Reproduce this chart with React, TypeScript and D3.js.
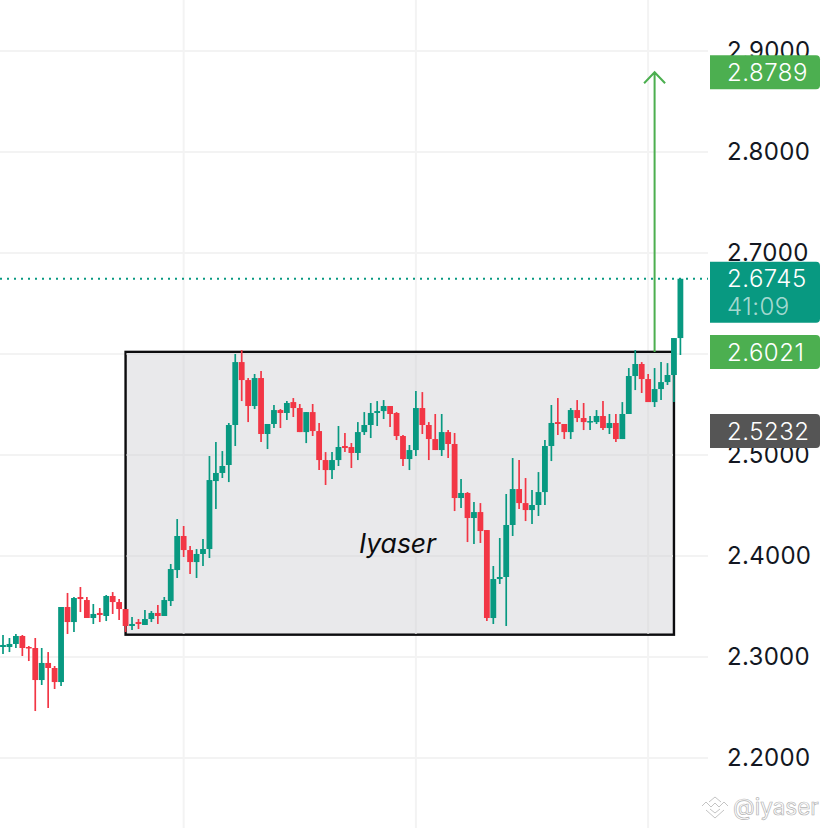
import { useEffect, useRef } from 'react';
import * as d3 from 'd3';

const opens = [
  2.3099, 2.3099, 2.3129, 2.3208, 2.3099, 2.3089, 2.2772, 2.2941, 2.2891, 2.2752,
  2.3495, 2.3346, 2.3594, 2.3564, 2.3386, 2.3436, 2.3406, 2.3604, 2.3544, 2.3475,
  2.3307, 2.3346, 2.3317, 2.3376, 2.3436, 2.3406, 2.3554, 2.3861, 2.4198, 2.4059,
  2.394, 2.402, 2.4069, 2.4742, 2.4822, 2.4901, 2.5297, 2.592, 2.5742, 2.5485,
  2.5762, 2.5208, 2.5307, 2.5445, 2.5416, 2.5524, 2.5465, 2.5227, 2.5425, 2.5237,
  2.495, 2.4851, 2.495, 2.5089, 2.5079, 2.502, 2.5227, 2.5297, 2.5416, 2.5435,
  2.5485, 2.5416, 2.5188, 2.496, 2.5049, 2.5465, 2.5297, 2.5158, 2.5049, 2.5227,
  2.5109, 2.4574, 2.4624, 2.4376, 2.4435, 2.4257, 2.3386, 2.3772, 2.3792, 2.4307,
  2.4663, 2.4524, 2.4455, 2.4505, 2.4633, 2.5089, 2.5326, 2.5307, 2.5227, 2.5445,
  2.5366, 2.5326, 2.5326, 2.5386, 2.5267, 2.5317, 2.5158, 2.5406, 2.5782, 2.5901,
  2.5752, 2.5524, 2.5653, 2.5722, 2.5792, 2.6158,
];
const highs = [
  2.3218, 2.3188, 2.3228, 2.3218, 2.3109, 2.3188, 2.3089, 2.3049, 2.2911, 2.3495,
  2.3634, 2.3594, 2.3693, 2.3594, 2.3525, 2.3485, 2.3614, 2.3643, 2.3574, 2.3475,
  2.3396, 2.3376, 2.3465, 2.3455, 2.3515, 2.3594, 2.3921, 2.4366, 2.4297, 2.4099,
  2.4069, 2.4168, 2.499, 2.5128, 2.5039, 2.5317, 2.6, 2.6039, 2.5762, 2.5802,
  2.5831, 2.5307, 2.5495, 2.5455, 2.5534, 2.5564, 2.5505, 2.5425, 2.5505, 2.5317,
  2.5029, 2.5029, 2.5287, 2.5218, 2.5119, 2.5326, 2.5425, 2.5515, 2.5534, 2.5544,
  2.5485, 2.5425, 2.5198, 2.5099, 2.5633, 2.5623, 2.5326, 2.5406, 2.5406, 2.5247,
  2.5218, 2.4762, 2.4633, 2.4534, 2.4524, 2.4257, 2.3901, 2.4178, 2.4614, 2.497,
  2.495, 2.4772, 2.4653, 2.4831, 2.5148, 2.5495, 2.5564, 2.5307, 2.5465, 2.5544,
  2.5515, 2.5386, 2.5445, 2.5534, 2.5406, 2.5406, 2.5524, 2.5861, 2.6039, 2.592,
  2.5802, 2.5861, 2.592, 2.591, 2.6158, 2.6745,
];
const lows = [
  2.303, 2.3049, 2.3089, 2.301, 2.296, 2.2465, 2.2723, 2.2495, 2.2683, 2.2713,
  2.3228, 2.3247, 2.3445, 2.3386, 2.3327, 2.3346, 2.3356, 2.3426, 2.3366, 2.3247,
  2.3267, 2.3277, 2.3317, 2.3346, 2.3327, 2.3406, 2.3505, 2.3782, 2.399, 2.3822,
  2.3782, 2.3901, 2.398, 2.4465, 2.4772, 2.4732, 2.5089, 2.5534, 2.5326, 2.5455,
  2.5128, 2.5059, 2.5267, 2.5267, 2.5346, 2.5376, 2.5227, 2.5118, 2.5188, 2.4851,
  2.4703, 2.4762, 2.4891, 2.5029, 2.4871, 2.495, 2.5198, 2.5168, 2.5287, 2.5356,
  2.5277, 2.5148, 2.4891, 2.4851, 2.499, 2.5208, 2.495, 2.5049, 2.499, 2.497,
  2.4445, 2.4475, 2.4138, 2.4119, 2.4129, 2.3356, 2.3327, 2.3723, 2.3307, 2.4198,
  2.4465, 2.4346, 2.4317, 2.4396, 2.4505, 2.494, 2.5198, 2.5158, 2.5158, 2.5326,
  2.5247, 2.5247, 2.5307, 2.5247, 2.5208, 2.5128, 2.5158, 2.5406, 2.5643, 2.5614,
  2.5524, 2.5475, 2.5544, 2.5693, 2.5524, 2.599,
];
const closes = [
  2.3119, 2.3129, 2.3208, 2.3089, 2.3089, 2.2772, 2.2941, 2.2891, 2.2752, 2.3495,
  2.3346, 2.3584, 2.3574, 2.3386, 2.3426, 2.3416, 2.3604, 2.3544, 2.3475, 2.3307,
  2.3327, 2.3327, 2.3376, 2.3436, 2.3406, 2.3564, 2.3871, 2.4198, 2.4059, 2.394,
  2.402, 2.4069, 2.4752, 2.4822, 2.4891, 2.5297, 2.592, 2.5742, 2.5485, 2.5762,
  2.5208, 2.5307, 2.5445, 2.5416, 2.5515, 2.5465, 2.5227, 2.5425, 2.5237, 2.495,
  2.4851, 2.495, 2.5079, 2.5069, 2.502, 2.5227, 2.5297, 2.5416, 2.5435, 2.5485,
  2.5406, 2.5188, 2.496, 2.5049, 2.5465, 2.5297, 2.5158, 2.5049, 2.5227, 2.5109,
  2.4574, 2.4624, 2.4376, 2.4435, 2.4247, 2.3386, 2.3772, 2.3792, 2.4307, 2.4663,
  2.4524, 2.4455, 2.4505, 2.4633, 2.5089, 2.5317, 2.5307, 2.5227, 2.5445, 2.5366,
  2.5326, 2.5336, 2.5386, 2.5267, 2.5317, 2.5158, 2.5406, 2.5782, 2.5901, 2.5752,
  2.5524, 2.5653, 2.5722, 2.5792, 2.6158, 2.6745,
];

const priceTicks = [2.2, 2.3, 2.4, 2.5, 2.6, 2.7, 2.8, 2.9];
const timeGridBars = [28, 64, 100];

const boxTop = 2.6021;
const boxBottom = 2.3221;
const boxStartBar = 19;
const boxEndBar = 104;
const arrowBar = 101;
const targetPrice = 2.8789;
const lastPrice = 2.6745;
const markerPrice = 2.5232;
const countdown = '41:09';

const GREEN = '#089981';
const RED = '#f23645';
const ARROW = '#4caf50';
const FONT = 'Inter, sans-serif';

function App() {
  const svgRef = useRef<SVGSVGElement>(null);

  useEffect(() => {
    if (!svgRef.current) return;
    const svg = d3.select(svgRef.current);
    svg.selectAll('*').remove();

    const x = d3.scaleLinear().domain([0, 105]).range([3, 680.4]);
    const y = d3.scaleLinear().domain([2.2, 2.9]).range([758, 51]);
    const plotRight = 708;

    const fmt = d3.format('.4f');
    const candles = opens.map((o, i) => ({ i, o, h: highs[i], l: lows[i], c: closes[i] }));

    // grid
    svg
      .append('g')
      .selectAll('line')
      .data(priceTicks)
      .join('line')
      .attr('x1', 0)
      .attr('x2', plotRight)
      .attr('y1', (d) => y(d))
      .attr('y2', (d) => y(d))
      .attr('stroke', '#f3f3f3')
      .attr('stroke-width', 2);

    svg
      .append('g')
      .selectAll('line')
      .data(timeGridBars)
      .join('line')
      .attr('x1', (d) => x(d))
      .attr('x2', (d) => x(d))
      .attr('y1', 0)
      .attr('y2', 828)
      .attr('stroke', '#f3f3f3')
      .attr('stroke-width', 2);

    // price axis
    const axis = svg
      .append('g')
      .attr('transform', 'translate(727,0)')
      .call(d3.axisRight(y).tickValues(priceTicks).tickFormat((d) => fmt(+d)).tickSize(0).tickPadding(0));
    axis.select('.domain').remove();
    axis
      .selectAll('text')
      .attr('font-family', FONT)
      .attr('font-size', 24)
      .attr('letter-spacing', 0.3)
      .attr('fill', '#131722');

    // range box
    svg
      .append('rect')
      .attr('x', x(boxStartBar))
      .attr('y', y(boxTop))
      .attr('width', x(boxEndBar) - x(boxStartBar))
      .attr('height', y(boxBottom) - y(boxTop))
      .attr('fill', '#e9e9eb')
      .attr('stroke', '#0c0c0e')
      .attr('stroke-width', 2.4);

    // grid shows faintly through the box
    svg
      .append('g')
      .selectAll('line')
      .data(priceTicks.filter((d) => d < boxTop && d > boxBottom))
      .join('line')
      .attr('x1', x(boxStartBar) + 1)
      .attr('x2', x(boxEndBar) - 1)
      .attr('y1', (d) => y(d))
      .attr('y2', (d) => y(d))
      .attr('stroke', '#e2e2e4')
      .attr('stroke-width', 2);
    svg
      .append('g')
      .selectAll('line')
      .data(timeGridBars)
      .join('line')
      .attr('x1', (d) => x(d))
      .attr('x2', (d) => x(d))
      .attr('y1', y(boxTop) + 1)
      .attr('y2', y(boxBottom) - 1)
      .attr('stroke', '#e2e2e4')
      .attr('stroke-width', 2);

    svg
      .append('text')
      .attr('x', 359)
      .attr('y', 553)
      .attr('font-family', FONT)
      .attr('font-style', 'italic')
      .attr('font-size', 26.5)
      .attr('fill', '#0c0c0e')
      .text('Iyaser');

    // last price line
    svg
      .append('line')
      .attr('x1', 0)
      .attr('x2', plotRight)
      .attr('y1', y(lastPrice))
      .attr('y2', y(lastPrice))
      .attr('stroke', GREEN)
      .attr('stroke-width', 2)
      .attr('stroke-dasharray', '2 5');

    // candles
    const g = svg.append('g');
    g.selectAll('line')
      .data(candles)
      .join('line')
      .attr('x1', (d) => x(d.i))
      .attr('x2', (d) => x(d.i))
      .attr('y1', (d) => y(d.h))
      .attr('y2', (d) => y(d.l))
      .attr('stroke', (d) => (d.c >= d.o ? GREEN : RED))
      .attr('stroke-width', 1.7);
    g.selectAll('rect')
      .data(candles)
      .join('rect')
      .attr('x', (d) => x(d.i) - 2.9)
      .attr('y', (d) => y(Math.max(d.o, d.c)))
      .attr('width', 5.8)
      .attr('height', (d) => Math.max(1.5, Math.abs(y(d.o) - y(d.c))))
      .attr('fill', (d) => (d.c >= d.o ? GREEN : RED));

    // target arrow
    const ax = x(arrowBar);
    const ay = y(targetPrice);
    svg
      .append('path')
      .attr('d', `M${ax},${y(boxTop)}V${ay}M${ax - 10.5},${ay + 11}L${ax},${ay}L${ax + 10.5},${ay + 11}`)
      .attr('fill', 'none')
      .attr('stroke', ARROW)
      .attr('stroke-width', 2);

    // price labels
    const labels = [
      { price: targetPrice, color: ARROW, h: 34, top: y(targetPrice) - 17 },
      { price: boxTop, color: ARROW, h: 34, top: y(boxTop) - 17 },
      { price: markerPrice, color: '#555555', h: 34, top: y(markerPrice) - 17.5 },
      { price: lastPrice, color: GREEN, h: 61, top: y(lastPrice) - 17 },
    ];
    const lab = svg.append('g').selectAll('g').data(labels).join('g');
    lab
      .append('path')
      .attr('d', (d) => {
        const r = 4;
        const x0 = 710;
        const x1 = 820;
        return `M${x0},${d.top}H${x1 - r}Q${x1},${d.top} ${x1},${d.top + r}V${d.top + d.h - r}Q${x1},${d.top + d.h} ${x1 - r},${d.top + d.h}H${x0}Z`;
      })
      .attr('fill', (d) => d.color);
    lab
      .append('text')
      .attr('x', 727)
      .attr('y', (d) => y(d.price))
      .attr('dy', '0.36em')
      .attr('font-family', FONT)
      .attr('font-size', 24)
      .attr('font-weight', 300)
      .attr('letter-spacing', 0.5)
      .attr('fill', '#ffffff')
      .text((d) => fmt(d.price));

    svg
      .append('text')
      .attr('x', 727)
      .attr('y', y(lastPrice) + 28)
      .attr('dy', '0.36em')
      .attr('font-family', FONT)
      .attr('font-size', 24)
      .attr('font-weight', 300)
      .attr('letter-spacing', 0.5)
      .attr('fill', '#ffffff')
      .attr('fill-opacity', 0.65)
      .text(countdown);

    // watermark
    const wm = svg.append('g').attr('fill', 'none').attr('stroke', '#c4c4c4').attr('stroke-width', 1);
    wm.append('path').attr('d', 'M709,802L715,797L721,802');
    wm.append('path').attr('d', 'M702,806L706,802L711,807L715,803L719,807L724,802L728,806');
    wm.append('path').attr('d', 'M706,810L715,818L724,810');
    wm.append('path').attr('d', 'M710,809L715,813L720,809');
    wm.append('text')
      .attr('x', 733)
      .attr('y', 815)
      .attr('font-family', FONT)
      .attr('font-size', 22.5)
      .attr('fill', '#ffffff')
      .attr('stroke', '#b4b4b4')
      .attr('stroke-width', 0.7)
      .text('@iyaser');
  }, []);

  return (
    <>
      <style>{'body{margin:0;background:#fff}'}</style>
      <svg ref={svgRef} width={828} height={828} style={{ display: 'block' }} />
    </>
  );
}

export default App;
